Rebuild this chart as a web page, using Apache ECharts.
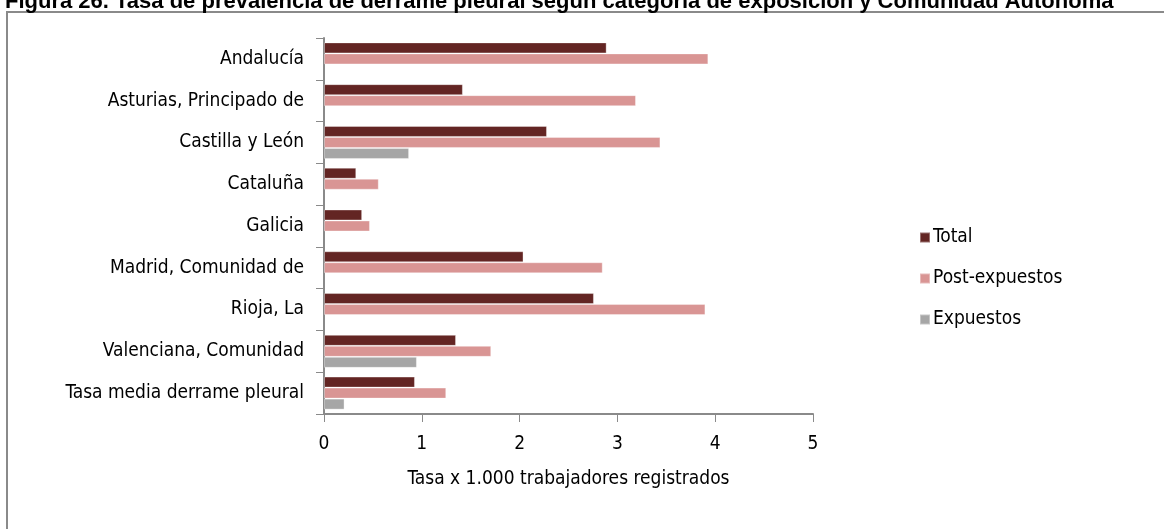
<!DOCTYPE html>
<html>
<head>
<meta charset="utf-8">
<script src="https://cdn.jsdelivr.net/npm/echarts@6/dist/echarts.min.js"></script>
<style>
html,body{margin:0;padding:0;background:#fff;}
#chart{width:1164px;height:529px;}
</style>
</head>
<body>
<div id="chart"></div>
<script>
var titleText = 'Figura 26. Tasa de prevalencia de derrame pleural según categoría de exposición y Comunidad Autónoma';
var categories = ['Andalucía','Asturias, Principado de','Castilla y León','Cataluña','Galicia','Madrid, Comunidad de','Rioja, La','Valenciana, Comunidad','Tasa media derrame pleural'];
var seriesNames = ['Total','Post-expuestos','Expuestos'];
var totalValues = [2.89, 1.42, 2.28, 0.33, 0.39, 2.04, 2.76, 1.35, 0.93];
var postValues = [3.93, 3.19, 3.44, 0.56, 0.47, 2.85, 3.90, 1.71, 1.25];
var expValues = [null, null, 0.87, null, null, null, null, 0.95, 0.21];
var xTicks = [0, 1, 2, 3, 4, 5];
var xAxisName = 'Tasa x 1.000 trabajadores registrados';
var colors = ['#632523', '#D99594', '#A6A6A6'];

var FONT = '"Liberation Sans Narrow", "DejaVu Sans Condensed", "Liberation Sans", sans-serif';
var chart = echarts.init(document.getElementById('chart'));
var valuesList = [totalValues, postValues, expValues];
chart.setOption({
  animation: false,
  color: colors,
  title: {
    text: titleText,
    left: 0, top: -14,
    textStyle: {fontFamily: '"Liberation Sans", Arial, sans-serif', fontWeight: 'bold', fontSize: 22, color: '#000'}
  },
  graphic: [{
    type: 'rect', shape: {x: 7, y: 12, width: 1300, height: 700},
    style: {fill: 'none', stroke: '#8a8a8a', lineWidth: 2}, z: -1
  }],
  legend: {
    orient: 'vertical', left: 914, top: 223,
    itemWidth: 10, itemHeight: 10, itemGap: 22,
    icon: 'rect',
    data: seriesNames,
    textStyle: {fontFamily: FONT, fontSize: 19, color: '#000', padding: [0,0,0,-2]}
  },
  grid: {left: 324, right: 351, top: 38, bottom: 115, containLabel: false},
  xAxis: {
    type: 'value', min: xTicks[0], max: xTicks[xTicks.length-1], interval: 1,
    name: xAxisName, nameLocation: 'middle', nameGap: 56,
    nameTextStyle: {fontFamily: FONT, fontSize: 19, color: '#000'},
    axisLine: {show: true, lineStyle: {color: '#8a8a8a', width: 2}},
    axisTick: {show: true, length: 8, lineStyle: {color: '#8a8a8a', width: 1}},
    axisLabel: {fontFamily: FONT, fontSize: 19, color: '#000', margin: 21},
    splitLine: {show: false}
  },
  yAxis: {
    type: 'category', data: categories, inverse: true,
    axisLine: {show: true, lineStyle: {color: '#8a8a8a', width: 2}},
    axisTick: {show: true, length: 8, lineStyle: {color: '#8a8a8a', width: 1}},
    axisLabel: {fontFamily: FONT, fontSize: 19, color: '#000', margin: 20}
  },
  series: seriesNames.map(function(n, i){
    return {
      name: n, type: 'bar', data: valuesList[i],
      barGap: '0%', barCategoryGap: '21%',
      itemStyle: {borderColor: 'rgba(255,255,255,0.35)', borderWidth: 1}
    };
  })
});
</script>
</body>
</html>
